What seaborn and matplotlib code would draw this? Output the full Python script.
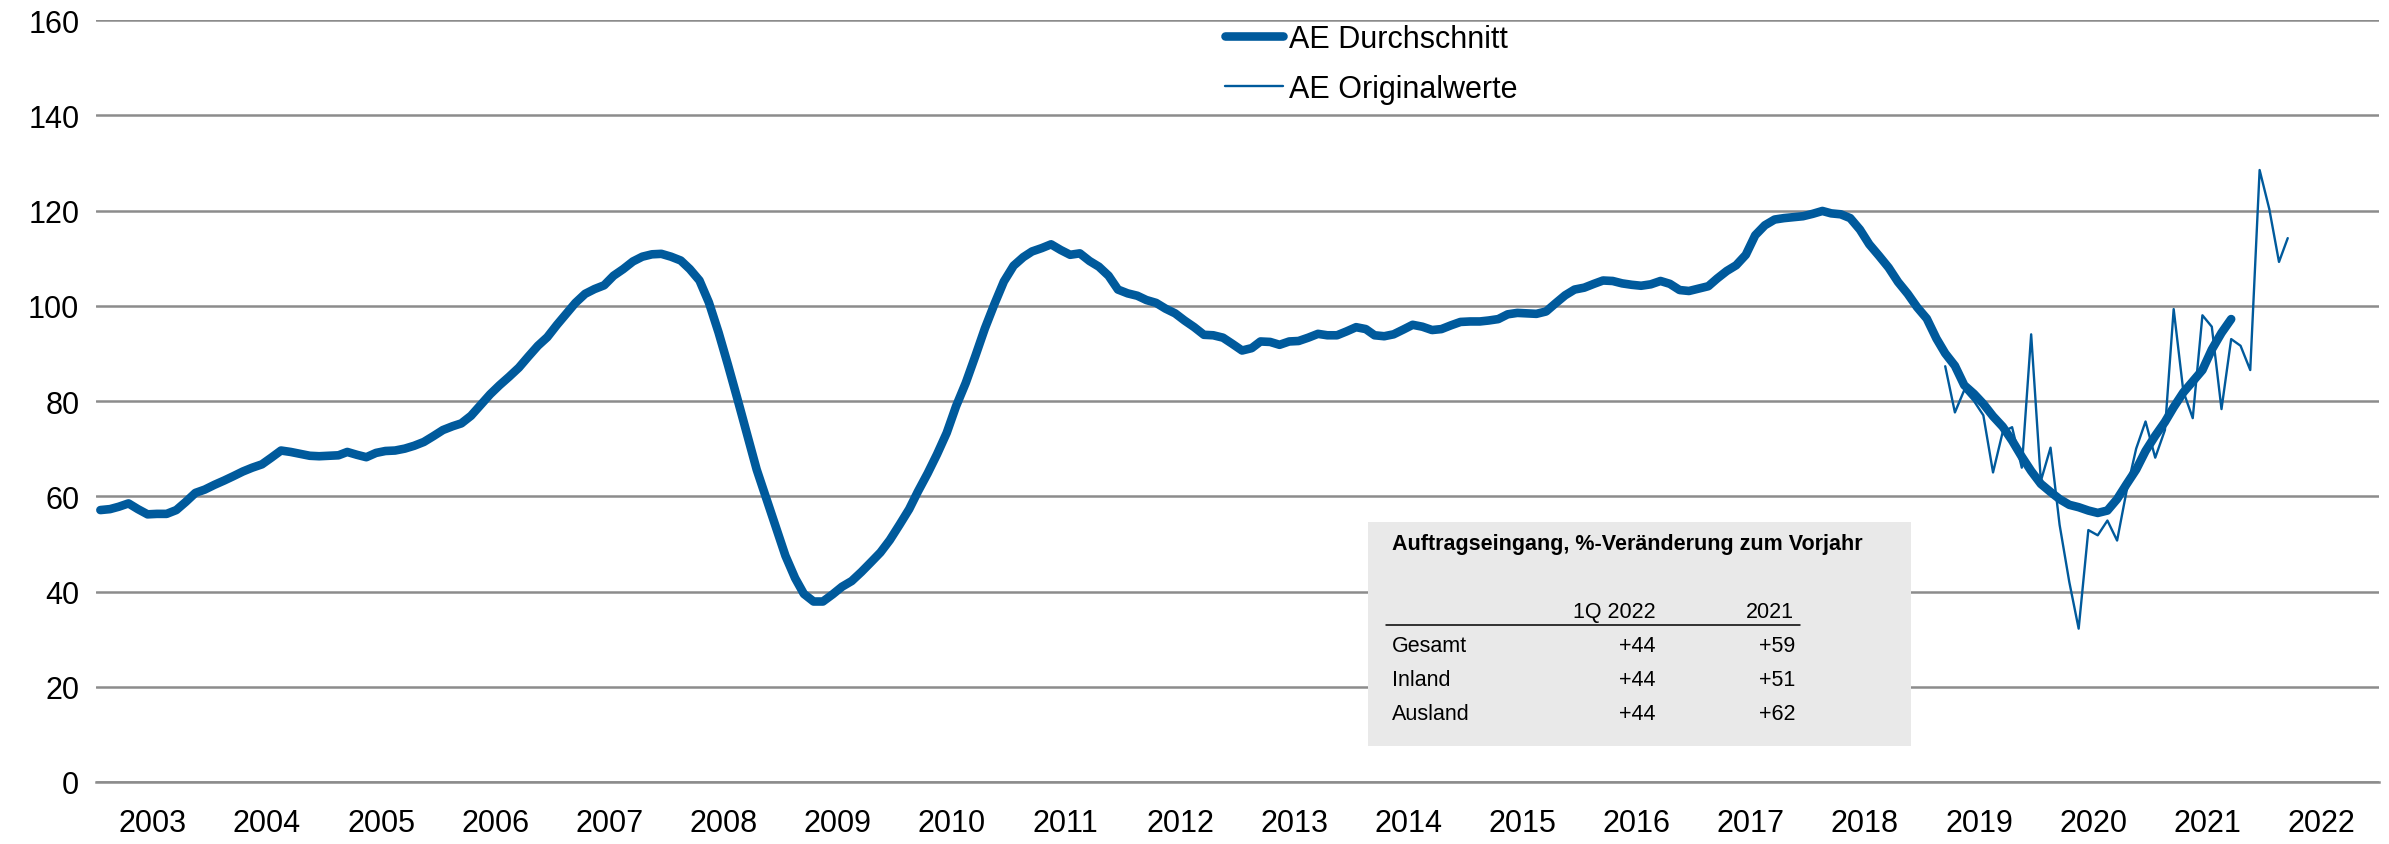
import numpy as np
import pandas as pd
import matplotlib
matplotlib.use("Agg")
import matplotlib.pyplot as plt
import matplotlib.dates as mdates
import matplotlib.ticker as mticker
from matplotlib.patches import Rectangle
from matplotlib.lines import Line2D
import seaborn as sns

# AE Durchschnitt, monthly from Jan 2003
avg_start = "2003-01-01"
ae_avg = [
    57.1, 57.3, 57.8, 58.5, 57.3, 56.2, 56.3, 56.3, 57.1, 58.8, 60.7, 61.4,   # 2003
    62.4, 63.3, 64.2, 65.2, 66.0, 66.7, 68.1, 69.6, 69.3, 68.9, 68.5, 68.4,   # 2004
    68.5, 68.6, 69.3, 68.7, 68.2, 69.1, 69.5, 69.6, 70.0, 70.6, 71.4, 72.6,   # 2005
    73.9, 74.7, 75.3, 76.9, 79.1, 81.4, 83.3, 85.1, 87.0, 89.3, 91.6, 93.4,   # 2006
    96.0, 98.4, 100.6, 102.5, 103.5, 104.3, 106.3, 107.7, 109.3, 110.3, 110.8, 110.9,  # 2007
    110.3, 109.5, 107.7, 105.3, 100.7, 94.4, 87.6, 80.3, 72.8, 65.6, 59.5, 53.6,     # 2008
    47.5, 42.8, 39.5, 37.9, 37.9, 39.4, 41.0, 42.2, 44.1, 46.1, 48.2, 50.8,   # 2009
    54.0, 57.3, 61.0, 64.8, 68.8, 73.3, 78.9, 83.8, 89.5, 95.2, 100.4, 105.1, # 2010
    108.4, 110.2, 111.4, 112.1, 112.9, 111.7, 110.7, 111.0, 109.4, 108.2, 106.3, 103.4,  # 2011
    102.6, 102.1, 101.2, 100.6, 99.4, 98.4, 96.9, 95.5, 93.9, 93.8, 93.3, 92.0,  # 2012
    90.6, 91.1, 92.5, 92.4, 91.8, 92.5, 92.6, 93.3, 94.1, 93.8, 93.8, 94.6,   # 2013
    95.5, 95.1, 93.8, 93.6, 94.0, 95.0, 96.0, 95.6, 94.9, 95.1, 95.9, 96.6,   # 2014
    96.7, 96.7, 96.9, 97.2, 98.2, 98.5, 98.4, 98.3, 98.8, 100.5, 102.2, 103.4,  # 2015
    103.8, 104.6, 105.3, 105.2, 104.7, 104.4, 104.2, 104.5, 105.2, 104.6, 103.3, 103.1,  # 2016
    103.6, 104.1, 105.7, 107.3, 108.5, 110.7, 114.8, 116.9, 118.1, 118.4, 118.6, 118.8,  # 2017
    119.3, 119.9, 119.4, 119.2, 118.4, 116.0, 112.9, 110.5, 108.0, 105.0, 102.5, 99.7,   # 2018
    97.3, 93.1, 90.0, 87.4, 83.3, 81.5, 79.4, 76.8, 74.6, 71.7, 68.3, 65.3,   # 2019
    62.6, 60.9, 59.4, 58.2, 57.7, 57.0, 56.5, 57.0, 59.4, 62.5, 65.6, 69.5,   # 2020
    72.7, 75.6, 78.7, 81.8, 84.1, 86.5, 90.8, 94.3, 97.2,                     # 2021
]

# AE Originalwerte, monthly from Mar 2019
orig_start = "2019-03-01"
ae_orig = [
    87.3, 77.6, 82.3, 80.0, 77.0, 65.0, 73.5, 74.5, 66.0, 94.0,               # 2019
    63.2, 70.2, 54.0, 42.0, 32.2, 52.9, 51.8, 54.9, 50.7, 61.0, 70.0, 75.7,   # 2020
    68.1, 73.9, 99.3, 82.0, 76.4, 98.0, 95.6, 78.3, 93.0, 91.6, 86.5, 128.5,  # 2021
    120.3, 109.2, 114.2,                                                      # 2022
]

# inset table
table_title = "Auftragseingang, %-Veränderung zum Vorjahr"
table_cols = ["1Q 2022", "2021"]
table_rows = ["Gesamt", "Inland", "Ausland"]
chg_1q2022 = ["+44", "+44", "+44"]
chg_2021 = ["+59", "+51", "+62"]

blue = "#005A9C"
grey = "#8C8C8C"
W, H = 2389, 845

sns.set_theme(style="white")
plt.rcParams["font.family"] = ["Liberation Sans", "DejaVu Sans"]
plt.rcParams["text.color"] = "black"


def fx(px):
    return px / W


def fy(py):
    return 1 - py / H


avg_df = pd.DataFrame({
    "date": pd.date_range(avg_start, periods=len(ae_avg), freq="MS") + pd.Timedelta(days=14),
    "value": ae_avg,
})
orig_df = pd.DataFrame({
    "date": pd.date_range(orig_start, periods=len(ae_orig), freq="MS") + pd.Timedelta(days=14),
    "value": ae_orig,
})

fig = plt.figure(figsize=(W / 100, H / 100), dpi=100)
ax = fig.add_axes([fx(96), fy(783), (2379 - 96) / W, (783 - 21) / H])

sns.lineplot(data=avg_df, x="date", y="value", ax=ax, color=blue, linewidth=6.2,
             label="AE Durchschnitt", solid_capstyle="round", solid_joinstyle="round", zorder=4)
sns.lineplot(data=orig_df, x="date", y="value", ax=ax, color=blue, linewidth=1.7,
             label="AE Originalwerte", solid_joinstyle="round", zorder=3)

ax.set_ylim(0, 160)
ax.set_yticks(range(0, 161, 20))
ax.set_xlim(pd.Timestamp("2003-01-01"), pd.Timestamp("2023-01-01"))
ax.set_xlabel("")
ax.set_ylabel("")
ax.yaxis.grid(True, color=grey, linewidth=1.8)
ax.xaxis.grid(False)
ax.set_axisbelow(True)
for s in ["left", "right", "top"]:
    ax.spines[s].set_visible(False)
ax.spines["bottom"].set_color(grey)
ax.spines["bottom"].set_linewidth(1.8)

ax.xaxis.set_major_locator(mdates.YearLocator(1))
ax.xaxis.set_major_formatter(mticker.NullFormatter())
ax.xaxis.set_minor_locator(mdates.MonthLocator(bymonth=7))
ax.xaxis.set_minor_formatter(mdates.DateFormatter("%Y"))
ax.tick_params(axis="x", which="major", length=7.5, width=1.8, color=grey, direction="out")
ax.tick_params(axis="x", which="minor", length=0, pad=19, labelsize=22, labelcolor="black")
ax.tick_params(axis="y", length=0, pad=12, labelsize=22, labelcolor="black")

leg = ax.legend(loc="center", bbox_to_anchor=(fx(1371), fy(65)), bbox_transform=fig.transFigure,
                frameon=False, fontsize=22, handlelength=1.9, handletextpad=0.2,
                labelspacing=0.65, borderpad=0)
for t in leg.get_texts():
    t.set_color("black")

# inset table box
x0, x1 = (1368 - 96) / (2379 - 96), (1911 - 96) / (2379 - 96)
y0, y1 = (783 - 747) / (783 - 21), (783 - 523) / (783 - 21)
ax.add_patch(Rectangle((x0, y0), x1 - x0, y1 - y0, transform=ax.transAxes,
                       facecolor="#E9E9E9", edgecolor="none", zorder=2, clip_on=False))

fs = 15.5
fig.text(fx(1392), fy(550), table_title, fontsize=fs, fontweight="bold", va="baseline")
fig.text(fx(1656), fy(618), table_cols[0], fontsize=fs, ha="right", va="baseline")
fig.text(fx(1794), fy(618), table_cols[1], fontsize=fs, ha="right", va="baseline")
fig.add_artist(Line2D([fx(1386), fx(1800)], [fy(626), fy(626)], color="black", linewidth=1.1))
for i, (lab, a, b) in enumerate(zip(table_rows, chg_1q2022, chg_2021)):
    yb = 652 + 34 * i
    fig.text(fx(1392), fy(yb), lab, fontsize=fs, va="baseline")
    fig.text(fx(1656), fy(yb), a, fontsize=fs, ha="right", va="baseline")
    fig.text(fx(1795), fy(yb), b, fontsize=fs, ha="right", va="baseline")

fig.savefig("out.png", dpi=100)
plt.close(fig)
